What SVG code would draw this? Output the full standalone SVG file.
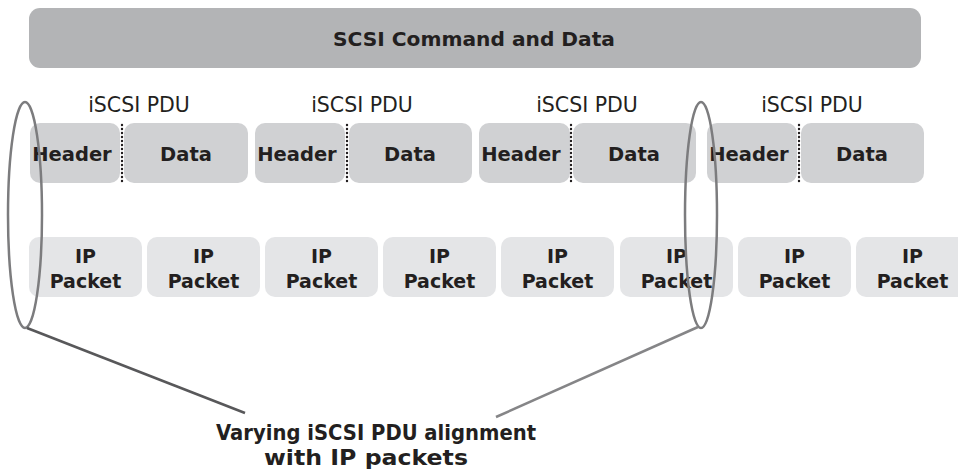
<svg xmlns="http://www.w3.org/2000/svg" width="958" height="469" viewBox="0 0 958 469">
<style>
.bar{fill:#b3b4b6}
.pdu{fill:#d0d1d3}
.pkt{fill:#e4e5e7}
.t{font-family:"DejaVu Sans","Verdana",sans-serif;fill:#231f20;text-anchor:middle}
.b{font-weight:bold}
.lbl{font-size:19.5px}
.pl{font-size:19px}
.pdut{font-size:20.5px}
.dot{stroke:#231f20;stroke-width:2.4;stroke-linecap:round;stroke-dasharray:0 4;fill:none}
.ell{fill:none;stroke:#7c7c7e;stroke-width:2.5}
</style>
<rect width="958" height="469" fill="#ffffff"/>
<g id="scsi">
<rect class="bar" x="29" y="8" width="892" height="60" rx="11"/>
<text class="t b" x="474" y="46" font-size="19" textLength="282" lengthAdjust="spacingAndGlyphs">SCSI Command and Data</text>
</g>
<g id="pdu1">
<text class="t pdut" x="139" y="112">iSCSI PDU</text>
<rect class="pdu" x="30" y="123" width="90" height="60" rx="10"/>
<rect class="pdu" x="124" y="123" width="124" height="60" rx="10"/>
<line class="dot" x1="122" y1="125" x2="122" y2="183"/>
<text class="t b lbl" x="72" y="161">Header</text>
<text class="t b lbl" x="186" y="161">Data</text>
</g>
<g id="pdu2">
<text class="t pdut" x="362" y="112">iSCSI PDU</text>
<rect class="pdu" x="255" y="123" width="90" height="60" rx="10"/>
<rect class="pdu" x="349" y="123" width="123" height="60" rx="10"/>
<line class="dot" x1="347" y1="125" x2="347" y2="183"/>
<text class="t b lbl" x="297" y="161">Header</text>
<text class="t b lbl" x="410" y="161">Data</text>
</g>
<g id="pdu3">
<text class="t pdut" x="587" y="112">iSCSI PDU</text>
<rect class="pdu" x="479" y="123" width="91" height="60" rx="10"/>
<rect class="pdu" x="573" y="123" width="123" height="60" rx="10"/>
<line class="dot" x1="571" y1="125" x2="571" y2="183"/>
<text class="t b lbl" x="521" y="161">Header</text>
<text class="t b lbl" x="634" y="161">Data</text>
</g>
<g id="pdu4">
<text class="t pdut" x="812" y="112">iSCSI PDU</text>
<rect class="pdu" x="707" y="123" width="90" height="60" rx="10"/>
<rect class="pdu" x="801" y="123" width="123" height="60" rx="10"/>
<line class="dot" x1="799" y1="125" x2="799" y2="183"/>
<text class="t b lbl" x="749" y="161">Header</text>
<text class="t b lbl" x="862" y="161">Data</text>
</g>
<g id="pkt1"><rect class="pkt" x="29" y="237" width="113" height="60" rx="10"/><text class="t b pl" x="85.5" y="263">IP</text><text class="t b pl" x="85.5" y="288">Packet</text></g>
<g id="pkt2"><rect class="pkt" x="147" y="237" width="113" height="60" rx="10"/><text class="t b pl" x="203.5" y="263">IP</text><text class="t b pl" x="203.5" y="288">Packet</text></g>
<g id="pkt3"><rect class="pkt" x="265" y="237" width="113" height="60" rx="10"/><text class="t b pl" x="321.5" y="263">IP</text><text class="t b pl" x="321.5" y="288">Packet</text></g>
<g id="pkt4"><rect class="pkt" x="383" y="237" width="113" height="60" rx="10"/><text class="t b pl" x="439.5" y="263">IP</text><text class="t b pl" x="439.5" y="288">Packet</text></g>
<g id="pkt5"><rect class="pkt" x="501" y="237" width="113" height="60" rx="10"/><text class="t b pl" x="557.5" y="263">IP</text><text class="t b pl" x="557.5" y="288">Packet</text></g>
<g id="pkt6"><rect class="pkt" x="620" y="237" width="113" height="60" rx="10"/><text class="t b pl" x="676.5" y="263">IP</text><text class="t b pl" x="676.5" y="288">Packet</text></g>
<g id="pkt7"><rect class="pkt" x="738" y="237" width="113" height="60" rx="10"/><text class="t b pl" x="794.5" y="263">IP</text><text class="t b pl" x="794.5" y="288">Packet</text></g>
<g id="pkt8"><rect class="pkt" x="856" y="237" width="113" height="60" rx="10"/><text class="t b pl" x="912.5" y="263">IP</text><text class="t b pl" x="912.5" y="288">Packet</text></g>
<g id="ellipse-left"><ellipse class="ell" cx="25" cy="215" rx="17" ry="113"/></g>
<g id="ellipse-right"><ellipse class="ell" cx="701" cy="215" rx="16" ry="113"/></g>
<g id="connectors">
<line x1="27" y1="328" x2="245" y2="413" stroke="#58585a" stroke-width="2.5"/>
<line x1="698" y1="327" x2="496" y2="417" stroke="#858587" stroke-width="2.5"/>
</g>
<g id="caption">
<text class="t b" x="376" y="440" font-size="22" textLength="320" lengthAdjust="spacingAndGlyphs">Varying iSCSI PDU alignment</text>
<text class="t b" x="366" y="465" font-size="22" textLength="204" lengthAdjust="spacingAndGlyphs">with IP packets</text>
</g>
</svg>
